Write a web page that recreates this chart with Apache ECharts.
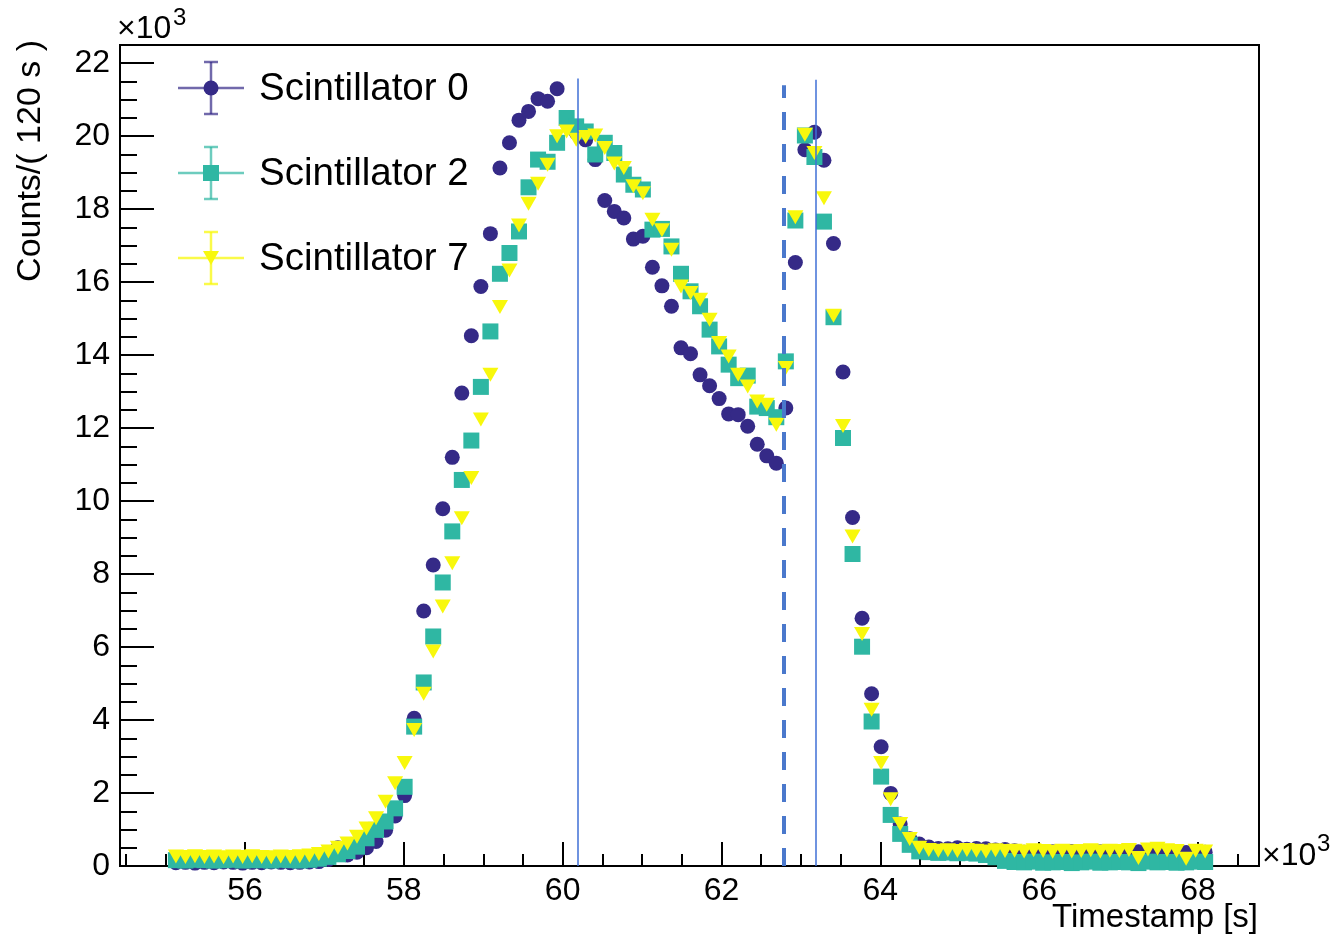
<!DOCTYPE html>
<html>
<head>
<meta charset="utf-8">
<title>Scintillator counts vs timestamp</title>
<script src="https://cdn.jsdelivr.net/npm/echarts@6.0.0/dist/echarts.min.js"></script>
<style>
html, body { margin: 0; padding: 0; background: #fff; }
#chart { width: 1331px; height: 942px; }
</style>
</head>
<body>
<div id="chart"></div>
<script>
// histogram bins, x in units of 10^3 s
var binStart = 55.07;
var binWidth = 0.12;

var seriesNames = ['Scintillator 0', 'Scintillator 2', 'Scintillator 7'];

// counts per bin, units of 10^3
var scint0 = [
    0.09, 0.10, 0.08, 0.10, 0.09, 0.11, 0.10, 0.08, 0.10, 0.09, 0.11, 0.10, 0.09, 0.10, 0.11,
    0.12, 0.18, 0.50, 0.30, 0.38, 0.50, 0.67, 0.98, 1.37, 1.93, 4.05, 6.99, 8.25, 9.79, 11.20,
    12.96, 14.53, 15.88, 17.33, 19.13, 19.82, 20.44, 20.68, 21.03, 20.96, 21.30, 20.40, 20.10, 19.90, 19.36,
    18.24, 17.94, 17.76, 17.18, 17.26, 16.41, 15.90, 15.34, 14.20, 14.04, 13.46, 13.16, 12.81, 12.39, 12.37,
    12.05, 11.56, 11.24, 11.04, 12.55, 16.54, 19.63, 20.11, 19.34, 17.06, 13.54, 9.55, 6.79, 4.72, 3.27,
    1.99, 1.15, 0.75, 0.60,
    0.52, 0.48, 0.47, 0.50, 0.46, 0.48, 0.47, 0.44, 0.45, 0.42,
    0.38, 0.40, 0.36, 0.39, 0.37, 0.40, 0.38, 0.36, 0.39, 0.37, 0.38, 0.35, 0.39, 0.37, 0.36, 0.38, 0.34, 0.37, 0.36, 0.38
];
var scint2 = [
    0.16, 0.15, 0.17, 0.16, 0.15, 0.16, 0.17, 0.15, 0.16, 0.16, 0.15, 0.17, 0.16, 0.15, 0.17,
    0.20, 0.25, 0.32, 0.41, 0.53, 0.76, 0.99, 1.22, 1.58, 2.17, 3.82, 5.03, 6.29, 7.77, 9.17,
    10.58, 11.66, 13.13, 14.65, 16.23, 16.80, 17.39, 18.60, 19.36, 19.30, 19.82, 20.50, 20.27, 20.13, 19.50,
    19.82, 19.54, 18.95, 18.67, 18.54, 17.44, 17.46, 16.98, 16.23, 15.75, 15.34, 14.70, 14.24, 13.74, 13.37,
    13.44, 12.59, 12.55, 12.30, 13.83, 17.69, 20.02, 19.43, 17.66, 15.04, 11.73, 8.55, 6.01, 3.96, 2.45,
    1.40, 0.88, 0.58, 0.40,
    0.38, 0.36, 0.37, 0.35, 0.36, 0.34, 0.30, 0.24,
    0.14, 0.11, 0.10, 0.12, 0.09, 0.10, 0.11, 0.08, 0.10, 0.12, 0.09, 0.10, 0.11, 0.10, 0.08, 0.12, 0.10, 0.11, 0.09, 0.10, 0.12, 0.11
];
var scint7 = [
    0.26, 0.25, 0.27, 0.25, 0.26, 0.24, 0.26, 0.25, 0.27, 0.25, 0.24, 0.26, 0.25, 0.27, 0.29,
    0.33, 0.40, 0.50, 0.62, 0.80, 1.03, 1.31, 1.76, 2.27, 2.82, 3.73, 4.72, 5.88, 7.11, 8.30,
    9.53, 10.63, 12.24, 13.46, 15.32, 16.32, 17.55, 18.15, 18.70, 19.22, 20.00, 20.13, 19.90, 19.98, 20.02,
    19.68, 19.25, 19.13, 18.63, 18.44, 17.71, 17.42, 16.89, 15.88, 15.70, 15.52, 14.97, 14.33, 13.96, 13.46,
    13.14, 12.73, 12.64, 12.09, 13.65, 17.78, 20.04, 19.54, 18.30, 15.08, 12.06, 9.03, 6.36, 4.28, 2.82,
    1.83, 1.15, 0.74, 0.50,
    0.44, 0.42, 0.43, 0.41, 0.44, 0.42, 0.40, 0.43, 0.41, 0.42, 0.40, 0.43, 0.41, 0.39, 0.42,
    0.40, 0.41, 0.43, 0.40, 0.42, 0.41, 0.44, 0.22, 0.45, 0.47, 0.43, 0.41, 0.20, 0.42, 0.40
];

var xTicks = [56, 58, 60, 62, 64, 66, 68];
var yTicks = [0, 2, 4, 6, 8, 10, 12, 14, 16, 18, 20, 22];

// vertical marker lines (x position, top end), 10^3 s / 10^3 counts
var cutTimes = [60.19, 62.79, 63.19];
var cutTops = [21.58, 21.40, 21.55];

var FONT = 'Liberation Sans, Arial, Helvetica, sans-serif';
var colors = ['#352a87', '#2fb7a3', '#f8f80c'];
var barColors = ['rgba(53,42,135,0.7)', 'rgba(47,183,163,0.7)', 'rgba(248,248,12,0.75)'];

function toPoints(values) {
    return values.map(function (v, i) {
        return [+(binStart + (i + 0.5) * binWidth).toFixed(3), v];
    });
}

function steps(lo, hi, step) {
    var out = [];
    for (var v = lo; v <= hi + 1e-9; v += step) out.push(+v.toFixed(3));
    return out;
}

var xMin = 54.426, xMax = 68.768;
var yMin = 0, yMax = 22.5;

function majorAxis(extra) {
    return Object.assign({
        type: 'value',
        splitLine: { show: false },
        axisLine: { show: true, onZero: false, lineStyle: { color: '#000', width: 2 } },
        axisTick: { show: true, inside: true, lineStyle: { color: '#000', width: 2 } },
        axisLabel: { color: '#000', fontSize: 32, fontFamily: FONT }
    }, extra);
}

var myChart = echarts.init(document.getElementById('chart'));

var legendGraphics = [];
seriesNames.forEach(function (name, i) {
    var cx = 211, cy = 88 + 85 * i;
    var bar = { stroke: barColors[i], lineWidth: 2.5 };
    legendGraphics.push(
        { type: 'line', shape: { x1: 178, y1: cy, x2: 244, y2: cy }, style: bar },
        { type: 'line', shape: { x1: cx, y1: cy - 26, x2: cx, y2: cy + 26 }, style: bar },
        { type: 'line', shape: { x1: cx - 7, y1: cy - 26, x2: cx + 7, y2: cy - 26 }, style: bar },
        { type: 'line', shape: { x1: cx - 7, y1: cy + 26, x2: cx + 7, y2: cy + 26 }, style: bar }
    );
    if (i === 0) {
        legendGraphics.push({ type: 'circle', shape: { cx: cx, cy: cy, r: 7.5 }, style: { fill: colors[0] } });
    } else if (i === 1) {
        legendGraphics.push({ type: 'rect', shape: { x: cx - 8, y: cy - 8, width: 16, height: 16 }, style: { fill: colors[1] } });
    } else {
        legendGraphics.push({ type: 'polygon', shape: { points: [[cx - 8, cy - 7], [cx + 8, cy - 7], [cx, cy + 7]] }, style: { fill: colors[2] } });
    }
    legendGraphics.push({
        type: 'text', x: 259, y: cy + 1,
        style: { text: name, fill: '#000', fontSize: 38.5, fontFamily: FONT, align: 'left', verticalAlign: 'middle' }
    });
});

var option = {
    animation: false,
    backgroundColor: '#fff',
    grid: { left: 120, right: 72, top: 45, bottom: 76, show: true, borderColor: '#000', borderWidth: 2 },
    xAxis: [
        majorAxis({
            position: 'bottom', min: xMin, max: xMax,
            axisTick: { show: true, inside: true, length: 24, customValues: xTicks, lineStyle: { color: '#000', width: 2 } },
            axisLabel: { color: '#000', fontSize: 32, fontFamily: FONT, margin: 9, customValues: xTicks }
        }),
        {
            type: 'value', position: 'bottom', min: xMin, max: xMax,
            splitLine: { show: false },
            axisLine: { show: false, onZero: false },
            axisLabel: { show: false },
            axisTick: { show: true, inside: true, length: 12, customValues: steps(54.5, 68.5, 0.5), lineStyle: { color: '#000', width: 2 } }
        }
    ],
    yAxis: [
        majorAxis({
            position: 'left', min: yMin, max: yMax,
            axisTick: { show: true, inside: true, length: 34, customValues: yTicks, lineStyle: { color: '#000', width: 2 } },
            axisLabel: { color: '#000', fontSize: 32, fontFamily: FONT, margin: 10, customValues: yTicks }
        }),
        {
            type: 'value', position: 'left', min: yMin, max: yMax,
            splitLine: { show: false },
            axisLine: { show: false, onZero: false },
            axisLabel: { show: false },
            axisTick: { show: true, inside: true, length: 17, customValues: steps(0.5, 22, 0.5), lineStyle: { color: '#000', width: 2 } }
        }
    ],
    series: [
        { name: seriesNames[0], type: 'scatter', symbol: 'circle', symbolSize: 15,
          itemStyle: { color: colors[0], opacity: 1 }, data: toPoints(scint0) },
        { name: seriesNames[1], type: 'scatter', symbol: 'rect', symbolSize: 16,
          itemStyle: { color: colors[1], opacity: 1 }, data: toPoints(scint2) },
        { name: seriesNames[2], type: 'scatter', symbol: 'triangle', symbolRotate: 180, symbolSize: [16, 14],
          itemStyle: { color: colors[2], opacity: 1 }, data: toPoints(scint7) },
        {
            name: 'cuts', type: 'scatter', z: 5, data: [],
            markLine: {
                silent: true, symbol: ['none', 'none'], label: { show: false }, animation: false,
                data: cutTimes.map(function (t, i) {
                    var dashed = i === 1;
                    return [
                        { coord: [t, 0], lineStyle: { color: dashed ? '#4a78cc' : '#3f6fd6', width: dashed ? 4 : 1.5, type: dashed ? [18, 14] : 'solid' } },
                        { coord: [t, cutTops[i]] }
                    ];
                })
            }
        }
    ],
    graphic: legendGraphics.concat([
        { type: 'text', x: 31, y: 40, rotation: Math.PI / 2,
          style: { text: 'Counts/( 120 s )', fill: '#000', fontSize: 34, fontFamily: FONT, align: 'right', verticalAlign: 'middle' } },
        { type: 'text', x: 1258, y: 918,
          style: { text: 'Timestamp [s]', fill: '#000', fontSize: 33, fontFamily: FONT, align: 'right', verticalAlign: 'middle' } },
        { type: 'text', x: 117, y: 29,
          style: { text: '×10', fill: '#000', fontSize: 32, fontFamily: FONT, align: 'left', verticalAlign: 'middle' } },
        { type: 'text', x: 173, y: 18,
          style: { text: '3', fill: '#000', fontSize: 24, fontFamily: FONT, align: 'left', verticalAlign: 'middle' } },
        { type: 'text', x: 1262, y: 856,
          style: { text: '×10', fill: '#000', fontSize: 32, fontFamily: FONT, align: 'left', verticalAlign: 'middle' } },
        { type: 'text', x: 1317, y: 844,
          style: { text: '3', fill: '#000', fontSize: 24, fontFamily: FONT, align: 'left', verticalAlign: 'middle' } }
    ])
};

myChart.setOption(option);
</script>
</body>
</html>
